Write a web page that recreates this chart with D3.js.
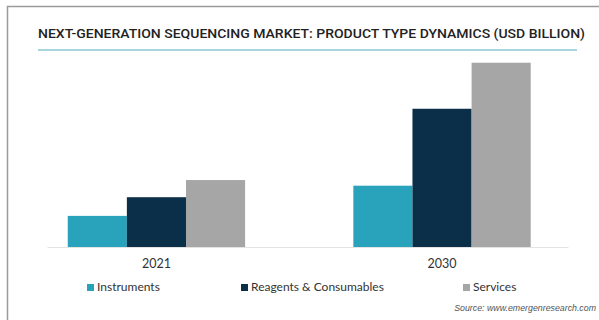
<!DOCTYPE html>
<html>
<head>
<meta charset="utf-8">
<script src="https://cdn.jsdelivr.net/npm/d3@7"></script>
<style>
  html, body { margin: 0; padding: 0; background: #fff; }
  svg { display: block; }
</style>
</head>
<body>
<svg id="chart" width="599" height="320"></svg>
<script>
// Market size by product type, USD billion
const years = ["2021", "2030"];
const productTypes = ["Instruments", "Reagents & Consumables", "Services"];
const instruments = [1.65, 3.25];
const reagents = [2.64, 7.33];
const services = [3.55, 9.77];
const colors = ["#29a2bb", "#0b2e49", "#a6a6a6"];

const title = "NEXT-GENERATION SEQUENCING MARKET: PRODUCT TYPE DYNAMICS (USD BILLION)";
const source = "Source: www.emergenresearch.com";

const seriesValues = [instruments, reagents, services];
const rows = years.map((y, i) => ({
  year: y,
  values: productTypes.map((p, j) => ({ key: p, value: seriesValues[j][i], color: colors[j] }))
}));

const svg = d3.select("#chart");

// frame
svg.append("path")
  .attr("d", "M7.5,320 V6.5 H599")
  .attr("fill", "none")
  .attr("stroke", "#9a9a9a")
  .attr("stroke-width", 1.5);

// title + rule
svg.append("text")
  .attr("x", 38).attr("y", 37.5)
  .attr("font-family", "Roboto, sans-serif")
  .attr("font-weight", 500)
  .attr("font-size", 13)
  .attr("fill", "#222")
  .attr("textLength", 547)
  .attr("lengthAdjust", "spacingAndGlyphs")
  .text(title);

svg.append("line")
  .attr("x1", 38).attr("x2", 577)
  .attr("y1", 50).attr("y2", 50)
  .attr("stroke", "#a9d5de")
  .attr("stroke-width", 2);

// scales
const baseY = 247;
const x0 = d3.scaleBand()
  .domain(years)
  .range([47, 568])
  .paddingInner(0.379)
  .paddingOuter(0.1016)
  .align(0.3575);

const x1 = d3.scaleBand()
  .domain(productTypes)
  .range([0, x0.bandwidth()]);

const y = d3.scaleLinear()
  .domain([0, 10])
  .range([baseY, 58.4]);

// bars
const groups = svg.append("g").selectAll("g")
  .data(rows)
  .join("g")
  .attr("transform", d => `translate(${x0(d.year)},0)`);

groups.selectAll("rect")
  .data(d => d.values)
  .join("rect")
  .attr("x", d => x1(d.key))
  .attr("width", x1.bandwidth())
  .attr("y", d => y(d.value))
  .attr("height", d => y(0) - y(d.value))
  .attr("fill", d => d.color);

// category axis
const axis = svg.append("g")
  .attr("transform", `translate(0,${baseY})`)
  .call(d3.axisBottom(x0).tickSize(0).tickPadding(12));
axis.select(".domain").attr("stroke", "#e3e3e3").attr("stroke-width", 1);
axis.selectAll("text")
  .attr("font-family", "Lato, sans-serif")
  .attr("font-size", 12.5)
  .attr("fill", "#333");

// legend
const legendX = [87, 241, 463];
const legend = svg.append("g").selectAll("g")
  .data(productTypes)
  .join("g")
  .attr("transform", (d, i) => `translate(${legendX[i]},284)`);
legend.append("rect")
  .attr("width", 7).attr("height", 7)
  .attr("fill", (d, i) => colors[i]);
legend.append("text")
  .attr("x", 10).attr("y", 7)
  .attr("font-family", "Lato, sans-serif")
  .attr("font-size", 12)
  .attr("fill", "#333")
  .text(d => d);

// source note
svg.append("text")
  .attr("x", 596).attr("y", 311)
  .attr("text-anchor", "end")
  .attr("font-family", "'Liberation Sans', Arial, sans-serif")
  .attr("font-style", "italic")
  .attr("font-size", 8.8)
  .attr("fill", "#555")
  .text(source);
</script>
</body>
</html>
